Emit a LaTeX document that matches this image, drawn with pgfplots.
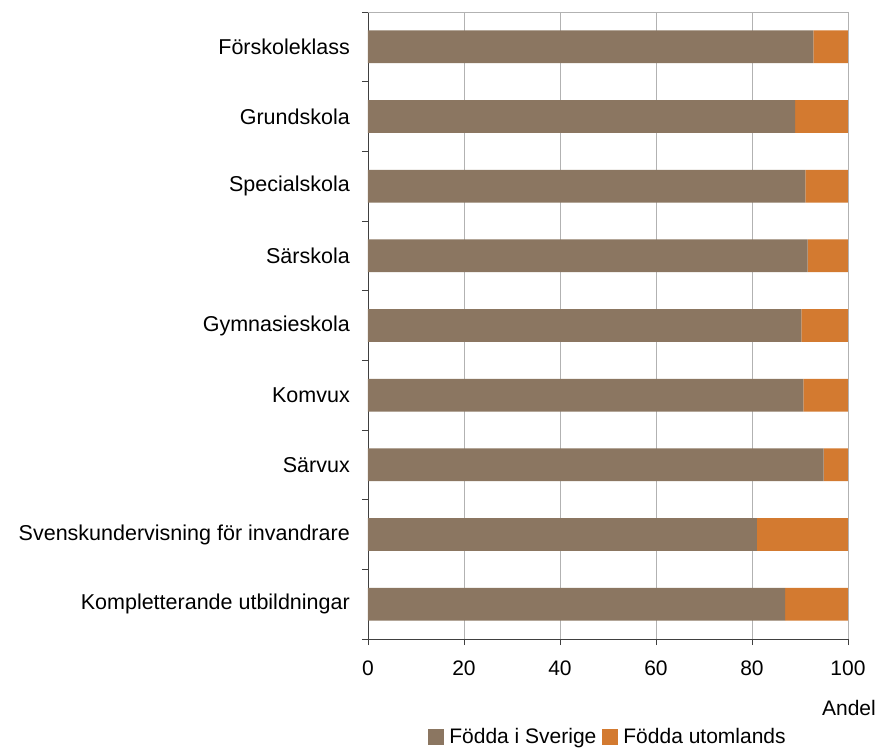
\documentclass[border=0pt]{standalone}
\usepackage{fontspec}
\setmainfont{Liberation Sans}
\usepackage{pgfplots}
\pgfplotsset{compat=1.18}

\definecolor{sverige}{RGB}{139,118,97}
\definecolor{utomlands}{RGB}{211,122,48}

\pgfplotstableread{
idx sverige utomlands
0 92.8 7.2
1 89.0 11.0
2 91.1 8.9
3 91.6 8.4
4 90.3 9.7
5 90.7 9.3
6 94.9 5.1
7 81.0 19.0
8 86.9 13.1
}\andel

\begin{document}
\begin{tikzpicture}[font=\fontsize{21}{25}\selectfont]
\begin{axis}[
    at={(0,0)}, anchor=south west,
    scale only axis,
    width=480pt, height=627pt,
    xbar stacked,
    bar width=0.47,
    xmin=0, xmax=100,
    ymin=-0.5, ymax=8.5,
    y dir=reverse,
    axis lines*=left,
    axis line style={black!75, line width=0.8pt},
    xtick={0,20,...,100},
    xmajorgrids,
    grid style={black!30, line width=0.8pt},
    tick align=outside,
    major tick length=6pt,
    tick style={black!75, line width=0.8pt},
    xtick pos=bottom, ytick pos=left,
    ytick={-0.5,0.5,...,8.5},
    yticklabels={},
    extra y ticks={0,1,...,8},
    extra y tick labels={Förskoleklass,Grundskola,Specialskola,Särskola,Gymnasieskola,Komvux,Särvux,Svenskundervisning för invandrare,Kompletterande utbildningar},
    extra y tick style={major tick length=0pt,
        yticklabel style={inner sep=0pt, xshift=-18pt, font=\fontsize{21.5}{25}\selectfont}},
    xticklabel style={inner sep=0pt, yshift=-16pt},
    /pgf/number format/assume math mode=true,
    xlabel={Andel},
    xlabel style={at={(axis description cs:1,0)}, anchor=east, inner sep=0pt, xshift=28pt, yshift=-69pt},
    legend style={at={(axis description cs:0.5,0)}, anchor=center, yshift=-98pt, draw=none, fill=none,
        legend columns=-1,
        /tikz/every odd column/.append style={column sep=3pt},
        /tikz/every even column/.append style={column sep=4pt}},
]
\addplot[fill=sverige, draw=none,
    legend image code/.code={\fill[sverige] (0pt,-8pt) rectangle (16pt,8pt);}]
    table[x=sverige, y=idx] {\andel};
\addlegendentry{Födda i Sverige}
\addplot[fill=utomlands, draw=none,
    legend image code/.code={\fill[utomlands] (0pt,-8pt) rectangle (16pt,8pt);}]
    table[x=utomlands, y=idx] {\andel};
\addlegendentry{Födda utomlands}
\draw[black!30, line width=0.8pt] (axis description cs:0,1) -- (axis description cs:1,1);
\end{axis}
\path[use as bounding box] (-368pt,-110pt) rectangle (511pt,639pt);
\end{tikzpicture}
\end{document}
